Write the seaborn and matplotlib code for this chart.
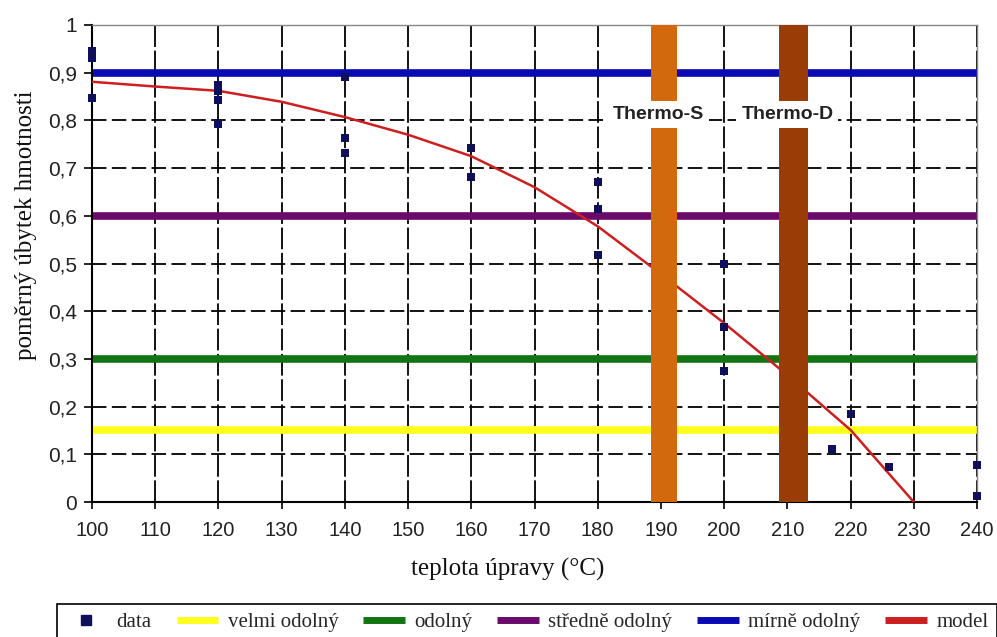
import numpy as np
import matplotlib
matplotlib.use('Agg')
import matplotlib.pyplot as plt
from matplotlib.lines import Line2D
import seaborn as sns

# measured points (temperature, relative mass loss)
data_temp = [100, 100, 100, 120, 120, 120, 120, 140, 140, 140, 160, 160,
             180, 180, 180, 200, 200, 200, 217, 220, 226, 240, 240]
data_loss = [0.945, 0.93, 0.847, 0.875, 0.862, 0.843, 0.792, 0.892, 0.763, 0.732,
             0.742, 0.681, 0.671, 0.614, 0.518, 0.499, 0.367, 0.275,
             0.111, 0.184, 0.073, 0.078, 0.013]

# model curve
model_temp = [100, 110, 120, 130, 140, 150, 160, 170, 180, 190, 200, 210, 220, 230]
model_loss = [0.881, 0.871, 0.862, 0.839, 0.807, 0.77, 0.725, 0.66, 0.578,
              0.478, 0.375, 0.266, 0.151, 0.0]

# durability classes
class_names = ['velmi odolný', 'odolný', 'středně odolný', 'mírně odolný']
class_levels = [0.15, 0.3, 0.6, 0.9]
class_colors = ['#ffff1e', '#127412', '#6a0a6a', '#0a0ab4']

# treatment bands
thermo_names = ['Thermo-S', 'Thermo-D']
thermo_lo = [188.5, 208.7]
thermo_hi = [192.6, 213.3]
thermo_colors = ['#d2690c', '#9a3c06']

x_ticks = list(range(100, 241, 10))
y_ticks = [0, 0.1, 0.2, 0.3, 0.4, 0.5, 0.6, 0.7, 0.8, 0.9, 1]
y_tick_labels = ['0', '0,1', '0,2', '0,3', '0,4', '0,5', '0,6', '0,7', '0,8', '0,9', '1']

sns.set_theme(style='white')
plt.rcParams['font.family'] = ['Liberation Sans', 'DejaVu Sans']

fig = plt.figure(figsize=(9.97, 6.37), dpi=100)
ax = fig.add_axes([92 / 997, 1 - 502 / 637, 885 / 997, 477 / 637])
ax.set_axisbelow(True)

for name, level, col in zip(class_names, class_levels, class_colors):
    ax.axhline(level, color=col, lw=5.5, zorder=2, solid_capstyle='butt')

sns.lineplot(x=model_temp, y=model_loss, color='#cc1f1f', lw=1.8, zorder=3, ax=ax)

for name, lo, hi, col in zip(thermo_names, thermo_lo, thermo_hi, thermo_colors):
    ax.axvspan(lo, hi, color=col, zorder=4, lw=0)
    ax.text((lo + hi) / 2 - 1, 0.812, name, ha='center', va='center', fontsize=14,
            fontweight='bold', color='#222222', zorder=6,
            bbox=dict(boxstyle='square,pad=0.25', fc='white', ec='none'))

sns.scatterplot(x=data_temp, y=data_loss, marker='s', s=40, color='#10105a',
                linewidth=0, zorder=5, clip_on=False, ax=ax)

ax.set_xlim(100, 240)
ax.set_ylim(0, 1)
ax.set_xticks(x_ticks)
ax.set_yticks(y_ticks)
ax.set_yticklabels(y_tick_labels)
ax.tick_params(axis='x', direction='out', length=5, width=1.2, color='black',
               labelsize=14.5, pad=9, bottom=True, labelcolor='#222222')
ax.tick_params(axis='y', direction='out', length=6, width=1.2, color='black',
               labelsize=15, pad=5, left=True, labelcolor='#222222')

ax.xaxis.grid(True, color='black', lw=1.3, linestyle=(0, (12, 2)))
ax.yaxis.grid(True, color='black', lw=1.3, linestyle=(0, (8, 3)))

for side in ['left', 'bottom']:
    ax.spines[side].set_color('black')
    ax.spines[side].set_linewidth(1.5)
for side in ['top', 'right']:
    ax.spines[side].set_color('#888888')
    ax.spines[side].set_linewidth(1.0)

ax.set_xlabel('teplota úpravy (°C)', family='Liberation Serif', fontsize=18, color='#111111')
ax.set_ylabel('poměrný úbytek hmotnosti', family='Liberation Serif', fontsize=18, color='#111111')
ax.xaxis.set_label_coords(0.47, -0.118)
ax.yaxis.set_label_coords(-0.062, 0.58)

handles = [Line2D([], [], marker='s', ls='none', ms=7, color='#10105a')]
handles += [Line2D([], [], color=c, lw=5, solid_capstyle='butt') for c in class_colors]
handles += [Line2D([], [], color='#cc1f1f', lw=5, solid_capstyle='butt')]
labels = ['data'] + class_names + ['model']
leg = fig.legend(handles, labels, loc='upper left', bbox_to_anchor=(57 / 997, 1 - 604 / 637),
                 ncol=6, frameon=True, fancybox=False, edgecolor='black', framealpha=1,
                 prop=dict(family='Liberation Serif', size=15), handlelength=2.0,
                 handletextpad=0.45, columnspacing=1.2, borderpad=0.4, borderaxespad=0)
leg.get_frame().set_linewidth(1.2)

fig.savefig('out.png', dpi=100)
